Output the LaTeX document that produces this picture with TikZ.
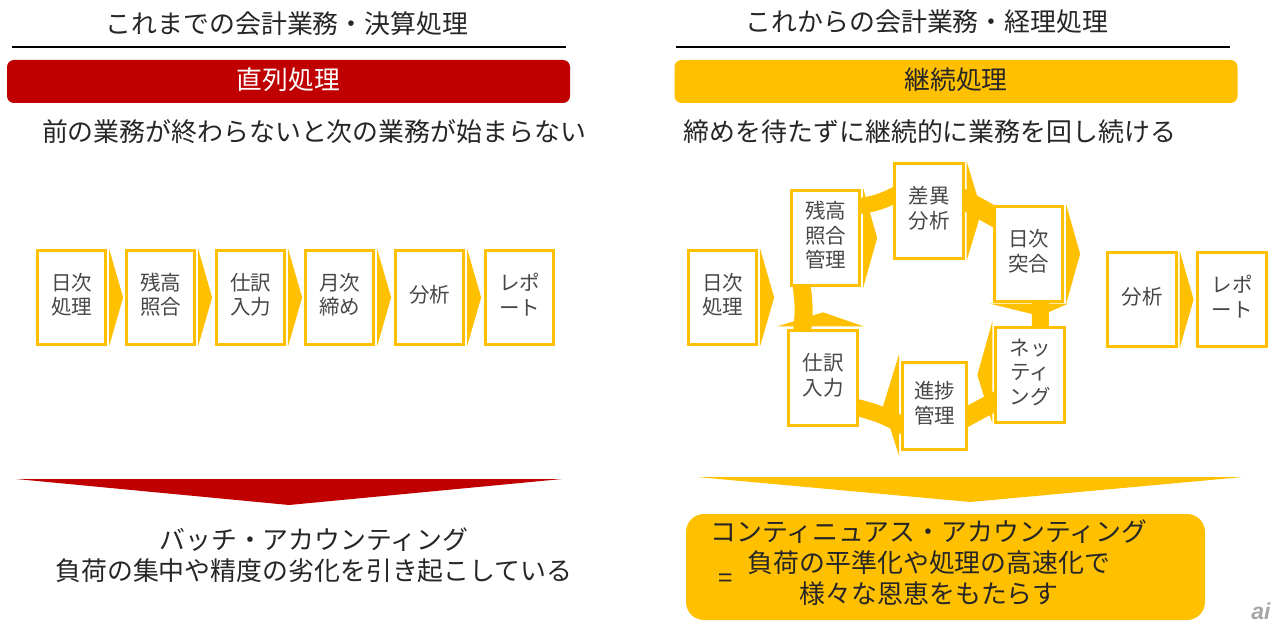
\documentclass[tikz,border=0pt]{standalone}
\usepackage{fontspec}
\setmainfont{Noto Sans CJK JP}
\usetikzlibrary{backgrounds}
\definecolor{gold}{HTML}{FFC000}
\definecolor{darkred}{HTML}{C00000}
\definecolor{ink}{HTML}{262626}
\tikzset{
  steptext/.style={align=center,text=ink!85,inner sep=0pt,yshift=2.7pt,font=\fontsize{20.5}{24.5}\selectfont},
  stepbox/.style={draw=gold,line width=2.8pt,fill=white,minimum width=68.5pt,minimum height=94.5pt,inner sep=0pt,label={[steptext]center:{#1}}},
  bigtext/.style={align=center,text=ink,inner sep=0pt,font=\fontsize{25.9}{31}\selectfont},
  banner/.style={rounded corners=7pt,minimum width=563pt,minimum height=43pt,inner sep=0pt,font=\fontsize{25.8}{31}\selectfont},
  tipfill/.style={fill=gold},
  band/.style={draw=gold,line width=#1,shorten >=-7pt,shorten <=-7pt}
}
\begin{document}
\begin{tikzpicture}[x=1pt,y=-1pt]
\useasboundingbox (0,0) rectangle (1280,628);
% headings
\node[bigtext] (oldtitle) at (287,24) {これまでの会計業務・決算処理};
\node[bigtext] (newtitle) at (927,22) {これからの会計業務・経理処理};
\draw[line width=2.6pt] (12,47)--(566,47);
\draw[line width=2.6pt] (676,47)--(1230,47);
\node[banner,fill=darkred,text=white] (oldband) at (288.5,81.5) {\raisebox{5pt}{直列処理}};
\node[banner,fill=gold,text=ink] (newband) at (956,81.5) {\raisebox{5pt}{継続処理}};
\node[bigtext] (oldsub) at (314,132) {前の業務が終わらないと次の業務が始まらない};
\node[bigtext] (newsub) at (930,132) {締めを待たずに継続的に業務を回し続ける};
% left row
\node[stepbox={日次\\処理}] (la) at (71.5,297.5) {};
\node[stepbox={残高\\照合}] (lb) at (160.5,297.5) {};
\node[stepbox={仕訳\\入力}] (lc) at (250.5,297.5) {};
\node[stepbox={月次\\締め}] (ld) at (339.5,297.5) {};
\node[stepbox={分析}] (le) at (429.5,297.5) {};
\node[stepbox={レポ\\ート}] (lf) at (519.5,297.5) {};
% right side
\node[stepbox={日次\\処理}] (ra) at (722.5,297.5) {};
\node[stepbox={残高\\照合\\管理}] (zan) at (825.5,238) {};
\node[stepbox={差異\\分析}] (sai) at (929,211) {};
\node[stepbox={日次\\突合}] (toku) at (1028.5,254) {};
\node[stepbox={ネッ\\ティ\\ング}] (net) at (1030,375) {};
\node[stepbox={進捗\\管理},minimum width=64pt,minimum height=87pt] (sin) at (934.5,406) {};
\node[stepbox={仕訳\\入力}] (shi) at (823,378) {};
\node[stepbox={分析}] (rb) at (1142,299.5) {};
\node[stepbox={レポ\\ート}] (rc) at (1232,299.5) {};
\begin{pgfonlayer}{background}
\foreach \n in {la,lb,lc,ld,le,ra,rb}
  \fill[tipfill] ([xshift=2pt]\n.north east) -- ([xshift=16pt]\n.east) -- ([xshift=2pt]\n.south east) -- cycle;
\foreach \n/\d in {zan/16,sai/17,toku/16}
  \fill[tipfill] ([xshift=2pt,yshift=1pt]\n.north east) -- ([xshift=\d pt]\n.east) -- ([xshift=2pt,yshift=-1pt]\n.south east) -- cycle;
\fill[tipfill] ([xshift=-2pt,yshift=5pt]net.north west) -- ([xshift=-17pt]net.west) -- ([xshift=-2pt]net.south west) -- cycle;
\fill[tipfill] ([xshift=-2pt,yshift=7pt]sin.north west) -- ([xshift=-18pt]sin.west) -- ([xshift=-2pt,yshift=-5pt]sin.south west) -- cycle;
\fill[tipfill] ([xshift=-3pt,yshift=-1pt]toku.south west) -- ([xshift=4pt,yshift=-1pt]toku.south east) -- (1040,316) -- cycle;
\fill[tipfill] ([xshift=-10pt,yshift=3pt]shi.north west) -- ([yshift=17pt]shi.north) -- ([xshift=5pt,yshift=3pt]shi.north east) -- cycle;
% curved bands
\draw[band=16pt] (sai.157) to[bend left=10] (zan.42);
\draw[band=20pt] (sai.17) to (toku.133);
\draw[band=17pt] (toku.-76) -- (net.78);
\draw[band=19pt] (net.217) to (sin.-17);
\draw[band=17pt] (sin.209) to[bend right=8] (shi.-40);
\draw[band=18pt] (zan.-116) to[bend left=8] (shi.113);
\end{pgfonlayer}
% bottom
\fill[darkred] (16,479)--(562,479)--(289,505)--cycle;
\fill[gold] (697,477)--(1243,477)--(970,502)--cycle;
\node[bigtext] (oldresult) at (314,555) {バッチ・アカウンティング\\負荷の集中や精度の劣化を引き起こしている};
\fill[gold,rounded corners=18pt] (686,514) rectangle (1205,620);
\node[bigtext] (newresult) at (929,563) {コンティニュアス・アカウンティング\\負荷の平準化や処理の高速化で\\様々な恩恵をもたらす};
\node[bigtext] (equal) at (726,581) {=};
\node[text=gray!70,inner sep=0pt] (mark) at (1261,611) {\fontspec{Liberation Sans}\fontsize{23}{23}\selectfont\bfseries\itshape ai};
\end{tikzpicture}
\end{document}
